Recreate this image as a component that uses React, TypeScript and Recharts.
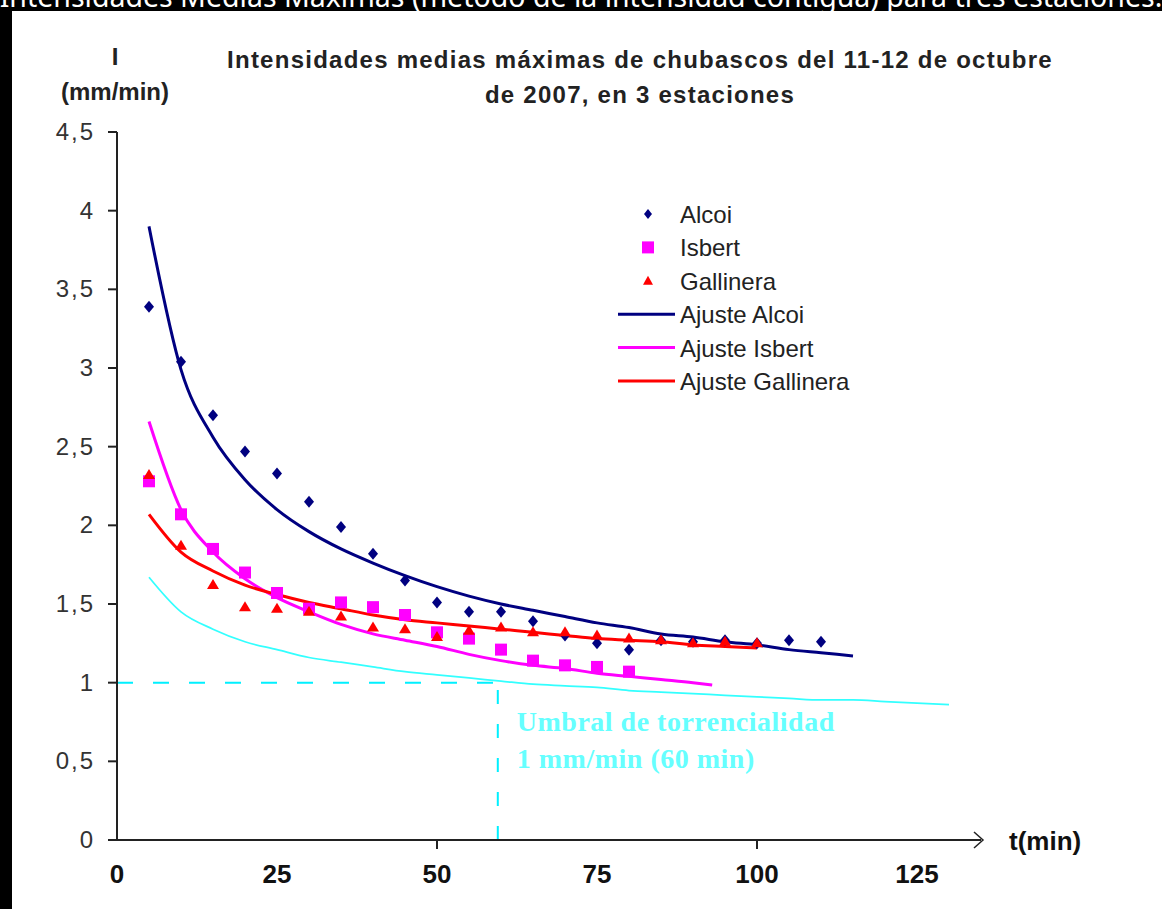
import React from 'react';
import { ComposedChart, Line, Scatter, XAxis, YAxis, ReferenceLine, Legend } from 'recharts';

// observed maximum mean intensities (t in min, I in mm/min)
const alcoiT = [5, 10, 15, 20, 25, 30, 35, 40, 45, 50, 55, 60, 65, 70, 75, 80, 85, 90, 95, 100, 105, 110];
const alcoiI = [3.39, 3.04, 2.7, 2.47, 2.33, 2.15, 1.99, 1.82, 1.65, 1.51, 1.45, 1.45, 1.39, 1.3, 1.25, 1.21, 1.27, 1.26, 1.27, 1.25, 1.27, 1.26];

const isbertT = [5, 10, 15, 20, 25, 30, 35, 40, 45, 50, 55, 60, 65, 70, 75, 80];
const isbertI = [2.28, 2.07, 1.85, 1.7, 1.57, 1.47, 1.51, 1.48, 1.43, 1.32, 1.28, 1.21, 1.14, 1.11, 1.1, 1.07];

const gallineraT = [5, 10, 15, 20, 25, 30, 35, 40, 45, 50, 55, 60, 65, 70, 75, 80, 85, 90, 95, 100];
const gallineraI = [2.32, 1.87, 1.62, 1.48, 1.47, 1.45, 1.42, 1.35, 1.34, 1.29, 1.33, 1.35, 1.32, 1.32, 1.3, 1.28, 1.27, 1.25, 1.26, 1.25];

// fitted curves
const ajusteAlcoiT = [5, 10, 15, 20, 25, 30, 35, 40, 45, 50, 55, 60, 65, 70, 75, 80, 85, 90, 95, 100, 105, 110, 115];
const ajusteAlcoiI = [3.9, 2.99, 2.56, 2.29, 2.1, 1.96, 1.85, 1.76, 1.68, 1.61, 1.55, 1.5, 1.46, 1.42, 1.38, 1.35, 1.31, 1.29, 1.26, 1.24, 1.21, 1.19, 1.17];

const ajusteIsbertT = [5, 10, 15, 20, 25, 30, 35, 40, 45, 50, 55, 60, 65, 70, 75, 80, 85, 90, 93];
const ajusteIsbertI = [2.66, 2.1, 1.83, 1.66, 1.54, 1.45, 1.37, 1.31, 1.27, 1.23, 1.18, 1.14, 1.11, 1.09, 1.06, 1.04, 1.02, 1.0, 0.985];

const ajusteGallineraT = [5, 10, 15, 20, 25, 30, 35, 40, 45, 50, 55, 60, 65, 70, 75, 80, 85, 90, 95, 100];
const ajusteGallineraI = [2.07, 1.83, 1.71, 1.62, 1.56, 1.51, 1.47, 1.43, 1.4, 1.38, 1.36, 1.34, 1.32, 1.3, 1.28, 1.27, 1.26, 1.24, 1.23, 1.22];

// threshold curve (cyan)
const umbralT = [5, 10, 15, 20, 25, 30, 35, 40, 45, 50, 55, 60, 65, 70, 75, 80, 85, 90, 95, 100, 105, 110, 115, 120, 125, 130];
const umbralI = [1.67, 1.45, 1.34, 1.26, 1.21, 1.16, 1.13, 1.1, 1.07, 1.05, 1.03, 1.01, 0.99, 0.98, 0.97, 0.95, 0.94, 0.93, 0.92, 0.91, 0.9, 0.89, 0.89, 0.88, 0.87, 0.86];

const umbralTime = 59.5;
const umbralValue = 1;

const xTicks = [0, 25, 50, 75, 100, 125];
const yTicks = [0, 0.5, 1, 1.5, 2, 2.5, 3, 3.5, 4, 4.5];

const legendOrder = ['Alcoi', 'Isbert', 'Gallinera', 'Ajuste Alcoi', 'Ajuste Isbert', 'Ajuste Gallinera'];

const sans = '"Liberation Sans", Arial, sans-serif';
const serif = '"Liberation Serif", "Times New Roman", serif';
const NAVY = '#000080';
const MAGENTA = '#ff00ff';
const RED = '#ff0000';
const CYAN = '#33ffff';

const toPoints = (t: number[], v: number[]) => t.map((x, k) => ({ t: x, i: v[k] }));

const DiamondDot = ({ cx, cy }: any) => (
    <polygon points={`${cx},${cy - 6} ${cx + 5},${cy} ${cx},${cy + 6} ${cx - 5},${cy}`} fill={NAVY} />
);
const SquareDot = ({ cx, cy }: any) => (
    <rect x={cx - 6} y={cy - 6} width={12} height={12} fill={MAGENTA} />
);
const TriangleDot = ({ cx, cy }: any) => (
    <polygon points={`${cx},${cy - 6} ${cx + 6},${cy + 4} ${cx - 6},${cy + 4}`} fill={RED} />
);

const YTick = ({ x, y, payload }: any) => (
    <text x={x} y={y + 8} textAnchor="end" fontFamily={sans} fontSize={24} fill="#333" letterSpacing={2}>
        {String(payload.value).replace('.', ',')}
    </text>
);

const XTick = ({ x, y, payload }: any) => (
    <g>
        {payload.value % 50 === 0 && payload.value > 0 && (
            <line x1={x} x2={x} y1={y} y2={y + 9} stroke="#222" strokeWidth={2} />
        )}
        <text x={x} y={y + 43} textAnchor="middle" fontFamily={sans} fontWeight="bold" fontSize={26} fill="#111">
            {payload.value}
        </text>
    </g>
);

const XAxisLabel = ({ viewBox }: any) => {
    const tip = viewBox.x + viewBox.width + 2;
    const y = viewBox.y;
    return (
        <g>
            <polyline points={`${tip - 9},${y - 8} ${tip},${y} ${tip - 9},${y + 8}`} fill="none" stroke="#222" strokeWidth={1.5} />
            <text x={tip + 26} y={y + 10} fontFamily={sans} fontWeight="bold" fontSize={26} fill="#111">
                t(min)
            </text>
        </g>
    );
};

const YAxisLabel = ({ viewBox }: any) => {
    const cx = viewBox.x + viewBox.width - 2;
    return (
        <g fontFamily={sans} fontWeight="bold" fontSize={24} fill="#222">
            <text x={cx} y={viewBox.y - 67} textAnchor="middle">I</text>
            <text x={cx} y={viewBox.y - 32} textAnchor="middle">(mm/min)</text>
        </g>
    );
};

const UmbralLabel = ({ viewBox }: any) => (
    <g fontFamily={serif} fontWeight="bold" fontSize={28} fill="#66ffff" letterSpacing={0.5}>
        <text x={viewBox.x + 19} y={viewBox.y + 48}>Umbral de torrencialidad</text>
        <text x={viewBox.x + 19} y={viewBox.y + 85}>1 mm/min (60 min)</text>
    </g>
);

const renderLegend = (props: any) => {
    const items = [...(props.payload || [])]
        .filter((p: any) => legendOrder.includes(p.value))
        .sort((a: any, b: any) => legendOrder.indexOf(a.value) - legendOrder.indexOf(b.value));
    return (
        <svg width={300} height={205}>
            {items.map((it: any, k: number) => {
                const cy = 18 + k * 33.4;
                let mark = null;
                if (it.type === 'diamond') {
                    mark = <polygon points={`48,${cy - 5} 52,${cy} 48,${cy + 5} 44,${cy}`} fill={it.color} />;
                } else if (it.type === 'square') {
                    mark = <rect x={42} y={cy - 6} width={12} height={12} fill={it.color} />;
                } else if (it.type === 'triangle') {
                    mark = <polygon points={`48,${cy - 5} 53,${cy + 4} 43,${cy + 4}`} fill={it.color} />;
                } else {
                    mark = <line x1={18} x2={75} y1={cy} y2={cy} stroke={it.color} strokeWidth={3} />;
                }
                return (
                    <g key={it.value}>
                        {mark}
                        <text x={80} y={cy + 9} fontFamily={sans} fontSize={24} fill="#222">
                            {it.value}
                        </text>
                    </g>
                );
            })}
        </svg>
    );
};

export default function App() {
    const alcoi = toPoints(alcoiT, alcoiI);
    const isbert = toPoints(isbertT, isbertI);
    const gallinera = toPoints(gallineraT, gallineraI);
    const ajusteAlcoi = toPoints(ajusteAlcoiT, ajusteAlcoiI);
    const ajusteIsbert = toPoints(ajusteIsbertT, ajusteIsbertI);
    const ajusteGallinera = toPoints(ajusteGallineraT, ajusteGallineraI);
    const umbral = toPoints(umbralT, umbralI);

    return (
        <div style={{ position: 'absolute', left: 0, top: 0, width: 1162, height: 909, background: '#000', overflow: 'hidden' }}>
            <div
                style={{
                    position: 'absolute', left: -10, top: -18, width: 1182, textAlign: 'center',
                    whiteSpace: 'nowrap', color: '#fff', fontFamily: '"Noto Sans", sans-serif',
                    fontSize: 28.5, lineHeight: '28.5px',
                }}
            >
                Intensidades Medias Máximas (método de la intensidad contigua) para tres estaciones.
            </div>
            <div style={{ position: 'absolute', left: 12, top: 11, right: 0, bottom: 0, background: '#fff' }} />
            <div
                style={{
                    position: 'absolute', left: 0, top: 42, width: 1162, textAlign: 'center',
                    fontFamily: sans, fontWeight: 'bold', fontSize: 24, lineHeight: '35px',
                    color: '#222', letterSpacing: 1.25,
                }}
            >
                <div style={{ paddingLeft: 118 }}>Intensidades medias máximas de chubascos del 11-12 de octubre</div>
                <div style={{ paddingLeft: 118 }}>de 2007, en 3 estaciones</div>
            </div>
            <div style={{ position: 'absolute', left: 0, top: 0 }}>
                <ComposedChart width={1162} height={909} margin={{ top: 132, right: 181, bottom: 0, left: 0 }}>
                    <XAxis
                        dataKey="t"
                        type="number"
                        domain={[0, 135]}
                        ticks={xTicks}
                        tick={<XTick />}
                        tickLine={false}
                        tickSize={0}
                        tickMargin={0}
                        height={69}
                        axisLine={{ stroke: '#222', strokeWidth: 2 }}
                        label={<XAxisLabel />}
                    />
                    <YAxis
                        dataKey="i"
                        type="number"
                        domain={[0, 4.5]}
                        ticks={yTicks}
                        tick={<YTick />}
                        tickSize={9}
                        tickMargin={13}
                        tickLine={{ stroke: '#222', strokeWidth: 2 }}
                        width={117}
                        axisLine={{ stroke: '#222', strokeWidth: 2 }}
                        label={<YAxisLabel />}
                    />
                    <ReferenceLine
                        segment={[{ x: 0, y: umbralValue }, { x: umbralTime, y: umbralValue }]}
                        stroke="#00f0ff"
                        strokeWidth={2}
                        strokeDasharray="16 20"
                    />
                    <ReferenceLine
                        segment={[{ x: umbralTime, y: 0 }, { x: umbralTime, y: umbralValue }]}
                        stroke="#00f0ff"
                        strokeWidth={2}
                        strokeDasharray="14 20"
                        label={<UmbralLabel />}
                    />
                    <Line data={umbral} dataKey="i" name="Umbral" type="monotone" stroke={CYAN} strokeWidth={1.75} dot={false} legendType="none" isAnimationActive={false} />
                    <Line data={ajusteAlcoi} dataKey="i" name="Ajuste Alcoi" type="monotone" stroke={NAVY} strokeWidth={3} dot={false} legendType="line" isAnimationActive={false} />
                    <Line data={ajusteIsbert} dataKey="i" name="Ajuste Isbert" type="monotone" stroke={MAGENTA} strokeWidth={3} dot={false} legendType="line" isAnimationActive={false} />
                    <Line data={ajusteGallinera} dataKey="i" name="Ajuste Gallinera" type="monotone" stroke={RED} strokeWidth={3} dot={false} legendType="line" isAnimationActive={false} />
                    <Scatter data={alcoi} dataKey="i" name="Alcoi" fill={NAVY} shape={<DiamondDot />} legendType="diamond" isAnimationActive={false} />
                    <Scatter data={isbert} dataKey="i" name="Isbert" fill={MAGENTA} shape={<SquareDot />} legendType="square" isAnimationActive={false} />
                    <Scatter data={gallinera} dataKey="i" name="Gallinera" fill={RED} shape={<TriangleDot />} legendType="triangle" isAnimationActive={false} />
                    <Legend
                        layout="vertical"
                        align="center"
                        verticalAlign="middle"
                        content={renderLegend}
                        wrapperStyle={{ left: 600, top: 196, width: 300, height: 205 }}
                    />
                </ComposedChart>
            </div>
        </div>
    );
}
